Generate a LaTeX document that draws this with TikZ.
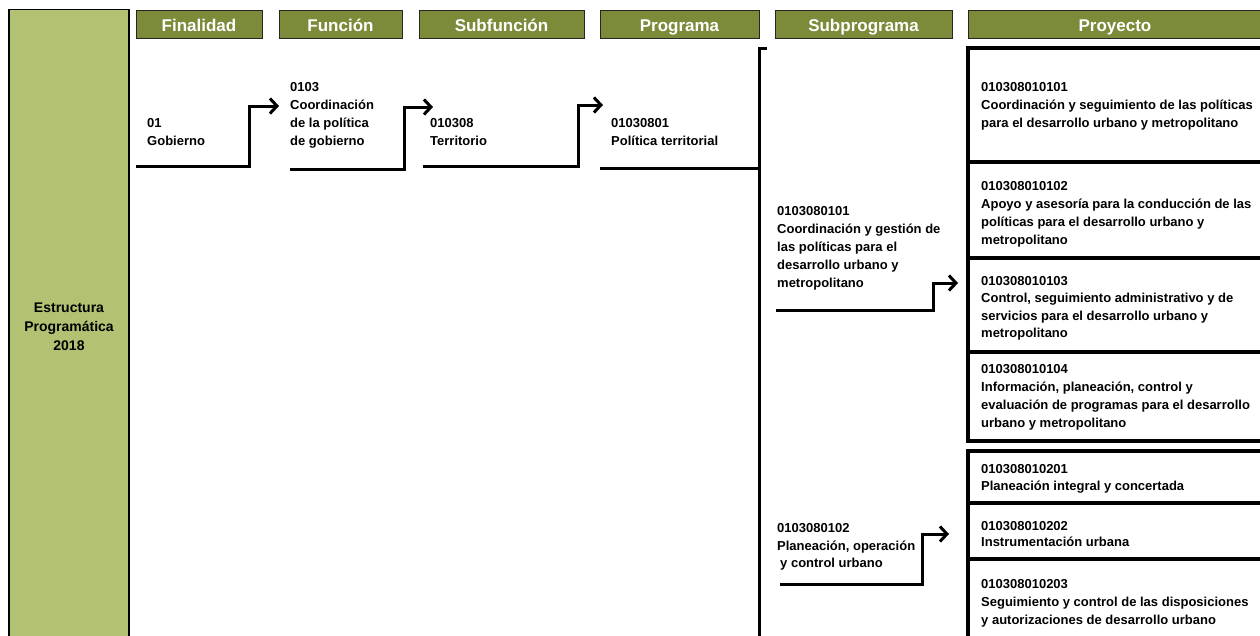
\documentclass[tikz,border=0pt]{standalone}
\usepackage{fontspec}
\setmainfont{Liberation Sans}
\usetikzlibrary{arrows.meta}
\definecolor{hdr}{RGB}{123,139,58}
\definecolor{lite}{RGB}{178,194,115}
\begin{document}
\begin{tikzpicture}[x=1pt,y=-1pt,
  hdrbox/.style={draw=black!85, line width=1pt, fill=hdr, inner sep=0pt, minimum height=28pt,
                 text height=17pt, text depth=3pt,
                 text=white, font=\fontsize{17}{20}\selectfont\bfseries},
  lbl/.style={anchor=base west, align=left, inner sep=0pt, font=\fontsize{13}{18}\selectfont\bfseries},
  conn/.style={line width=3pt},
  arr/.style={conn, -{Straight Barb[length=7pt,width=15pt]}},
  projbox/.style={draw, line width=3.2pt},
]
\useasboundingbox (0,0) rectangle (1260,635);
\clip (0,0) rectangle (1260,635);

% left column
\node[draw=black, line width=1.2pt, fill=lite, minimum width=120pt, minimum height=635pt, inner sep=0pt,
      align=center, font=\fontsize{14}{19}\selectfont\bfseries] (estr) at (69,327)
  {Estructura\\Programática\\2018};

% headers
\node[hdrbox, minimum width=126pt] (hfin) at (199,24) {Finalidad};
\node[hdrbox, minimum width=123pt] (hfun) at (340.5,24) {Función};
\node[hdrbox, minimum width=165pt] (hsub) at (501.5,24) {Subfunción};
\node[hdrbox, minimum width=159pt] (hprog) at (679.5,24) {Programa};
\node[hdrbox, minimum width=177pt] (hsp) at (863.5,24) {Subprograma};
\node[hdrbox, minimum width=294pt] (hproy) at (1115,24) {Proyecto};

% labels (anchored at the baseline of their last line)
\node[lbl] (fin) at (147,145.6) {01\\Gobierno};
\node[lbl] (fun) at (290,145.6) {0103\\Coordinación\\de la política\\de gobierno};
\node[lbl] (sub) at (430,145.6) {010308\\Territorio};
\node[lbl] (prog) at (611,145.6) {01030801\\Política territorial};
\node[lbl] (sp1) at (777,287.6) {0103080101\\Coordinación y gestión de\\las políticas para el\\desarrollo urbano y\\metropolitano};
\node[lbl, font=\fontsize{13}{17.5}\selectfont\bfseries] (sp2) at (777,567.6) {0103080102\\Planeación, operación\\\hspace{3pt}y control urbano};

% project boxes
\draw[projbox] (1275,48) -- (968,48) -- (968,441) -- (1275,441);
\draw[projbox] (968,162) -- (1275,162);
\draw[projbox] (968,258) -- (1275,258);
\draw[projbox] (968,352) -- (1275,352);
\draw[projbox] (1275,451) -- (968,451) -- (968,645);
\draw[projbox] (968,503) -- (1275,503);
\draw[projbox] (968,559) -- (1275,559);

\node[lbl] (p1) at (981,127.6) {010308010101\\Coordinación y seguimiento de las políticas\\para el desarrollo urbano y metropolitano};
\node[lbl] (p2) at (981,244.6) {010308010102\\Apoyo y asesoría para la conducción de las\\políticas para el desarrollo urbano y\\metropolitano};
\node[lbl, font=\fontsize{13}{17.5}\selectfont\bfseries] (p3) at (981,337.6) {010308010103\\Control, seguimiento administrativo y de\\servicios para el desarrollo urbano y\\metropolitano};
\node[lbl] (p4) at (981,427.6) {010308010104\\Información, planeación, control y\\evaluación de programas para el desarrollo\\urbano y metropolitano};
\node[lbl, font=\fontsize{13}{17}\selectfont\bfseries] (p5) at (981,490.6) {010308010201\\Planeación integral y concertada};
\node[lbl, font=\fontsize{13}{16}\selectfont\bfseries] (p6) at (981,546.6) {010308010202\\Instrumentación urbana};
\node[lbl] (p7) at (981,624.6) {010308010203\\Seguimiento y control de las disposiciones\\y autorizaciones de desarrollo urbano};

% connector coordinates
\coordinate (finS) at (136,166);  \coordinate (finT) at (279,106);
\coordinate (funS) at (290,169);  \coordinate (funT) at (433,107);
\coordinate (subS) at (423,166);  \coordinate (subT) at (603,105);
\coordinate (progS) at (600,168); \coordinate (brk) at (759,168);
\coordinate (brkTop) at (759,48); \coordinate (brkTick) at (767,48); \coordinate (brkBot) at (759,645);
\coordinate (sp1S) at (776,310);  \coordinate (sp1T) at (958,283);
\coordinate (sp2S) at (780,584);  \coordinate (sp2T) at (949,534);

\draw[arr] (finS) -| (249,106) -- (finT);
\draw[arr] (funS) -| (404,107) -- (funT);
\draw[arr] (subS) -| (578,105) -- (subT);
\draw[conn] (progS) -- (brk);
\draw[conn] (brkTick) -- (brkTop) -- (brkBot);
\draw[arr] (sp1S) -| (933,283) -- (sp1T);
\draw[arr] (sp2S) -| (922,534) -- (sp2T);
\end{tikzpicture}
\end{document}
